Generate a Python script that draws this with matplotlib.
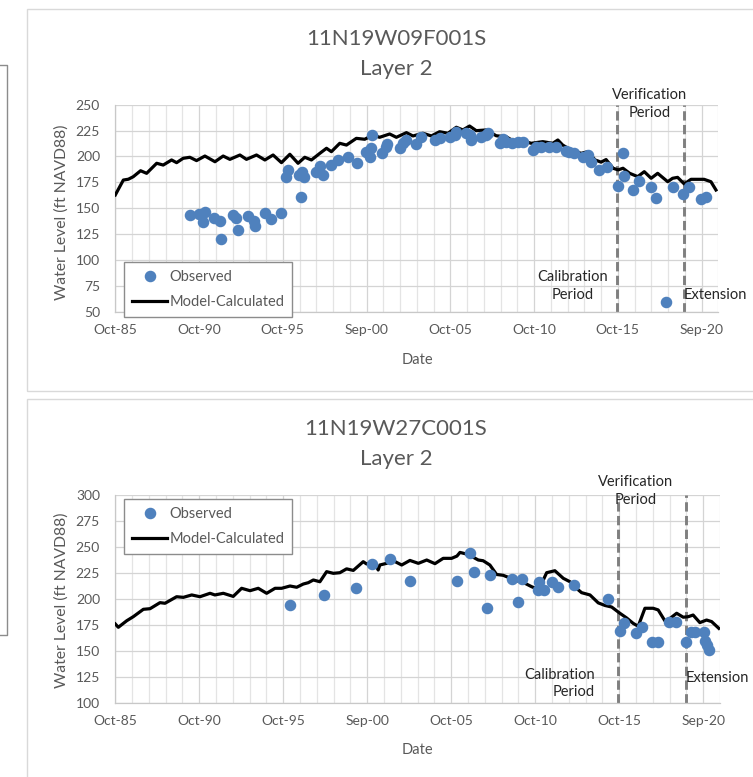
import matplotlib
matplotlib.use('Agg')
import matplotlib.pyplot as plt
from matplotlib.lines import Line2D
from matplotlib.patches import Rectangle
import numpy as np

plt.rcParams['font.family'] = ['Lato', 'DejaVu Sans']

GREY = '#595959'
BLUE = '#4f81bd'

date_labels = ['Oct-85', 'Oct-90', 'Oct-95', 'Sep-00', 'Oct-05', 'Oct-10', 'Oct-15', 'Sep-20']
calibration_end = 2015.7
verification_end = 2019.7

# well 11N19W09F001S
w09_model_year = [1985.75, 1986.23, 1986.53, 1986.82, 1987.26, 1987.62, 1988.22, 1988.61, 1989.11, 1989.41,
                  1989.80, 1990.20, 1990.60, 1991.10, 1991.70, 1992.19, 1992.59, 1993.19, 1993.58, 1994.18,
                  1994.68, 1995.17, 1995.67, 1996.17, 1996.66, 1997.06, 1997.46, 1997.96, 1998.36, 1998.65,
                  1999.15, 1999.55, 2000.14, 2000.64, 2001.13, 2001.53, 2002.13, 2002.53, 2003.13, 2003.52,
                  2004.12, 2004.62, 2005.11, 2005.61, 2006.11, 2006.50, 2006.90, 2007.30, 2007.90, 2008.49,
                  2009.09, 2009.58, 2010.08, 2010.58, 2011.27, 2011.87, 2012.17, 2012.46, 2012.96, 2013.56,
                  2013.96, 2014.40, 2014.75, 2015.05, 2015.47, 2015.77, 2016.06, 2016.46, 2016.94, 2017.33,
                  2017.74, 2018.13, 2018.73, 2019.02, 2019.32, 2019.72, 2020.12, 2020.90, 2021.31, 2021.61]
w09_model_level = [162.8, 177.2, 178.0, 180.4, 186.2, 183.7, 193.4, 191.7, 196.6, 194.0,
                   198.2, 199.2, 196.0, 200.4, 194.9, 200.4, 197.2, 201.4, 197.2, 201.4,
                   196.6, 201.4, 194.0, 202.1, 193.4, 199.2, 196.6, 203.0, 207.9, 204.6,
                   212.7, 211.0, 217.5, 216.6, 220.7, 218.5, 221.7, 218.5, 223.0, 219.8,
                   222.4, 219.8, 223.9, 222.4, 228.2, 225.6, 229.4, 224.9, 225.6, 220.0,
                   219.0, 214.3, 215.2, 212.7, 214.3, 212.7, 215.9, 211.0, 206.2, 203.0,
                   204.6, 196.6, 194.5, 197.0, 188.6, 187.0, 188.6, 183.7, 180.5, 185.3,
                   178.9, 183.7, 175.6, 178.9, 179.8, 173.4, 177.9, 177.9, 175.6, 167.6]
w09_obs_year = [1990.20, 1990.76, 1991.10, 1991.00, 1991.64, 1991.99, 1992.04, 1992.75, 1992.95, 1993.05,
                1993.68, 1994.02, 1994.08, 1994.69, 1995.03, 1995.67, 1995.93, 1996.07, 1996.72, 1996.90,
                1997.00, 1996.82, 1997.72, 1997.95, 1998.17, 1998.65, 1999.05, 1999.65, 2000.16, 2000.70,
                2000.94, 2001.04, 2001.10, 2001.69, 2001.91, 2001.95, 2002.73, 2002.92, 2003.13, 2003.72,
                2004.02, 2004.81, 2005.11, 2005.71, 2006.01, 2006.11, 2006.70, 2006.90, 2007.00, 2007.60,
                2007.90, 2007.99, 2008.69, 2008.89, 2009.09, 2009.41, 2009.78, 2010.08, 2010.68, 2010.88,
                2011.18, 2011.67, 2012.07, 2012.67, 2012.86, 2013.16, 2013.66, 2013.95, 2014.16, 2014.65,
                2015.10, 2015.74, 2016.04, 2016.11, 2016.64, 2017.04, 2017.72, 2018.01, 2018.65, 2019.07,
                2019.66, 2020.02, 2020.72, 2021.02]
w09_obs_level = [143.0, 144.0, 146.0, 137.0, 141.0, 138.0, 120.0, 143.0, 141.0, 129.0,
                 142.0, 138.0, 132.5, 145.7, 139.3, 145.7, 180.5, 187.0, 182.0, 185.3,
                 180.0, 161.0, 184.5, 190.5, 182.0, 191.7, 196.6, 199.2, 193.4, 204.6,
                 199.0, 208.0, 221.0, 203.0, 209.5, 212.5, 208.0, 212.7, 215.5, 212.5,
                 219.0, 215.9, 217.5, 218.5, 220.5, 223.5, 222.4, 221.0, 216.0, 219.0,
                 220.7, 222.4, 212.7, 217.0, 214.3, 213.0, 213.5, 214.3, 206.5, 208.8,
                 209.4, 209.4, 209.4, 205.5, 204.6, 203.0, 199.8, 201.0, 194.9, 186.9,
                 190.0, 171.4, 203.0, 181.1, 167.6, 176.5, 170.2, 159.6, 59.0, 170.0,
                 163.3, 170.2, 159.3, 160.8]

# well 11N19W27C001S
w27_model_year = [1985.75, 1985.93, 1986.43, 1986.82, 1987.42, 1987.82, 1988.41, 1988.71, 1989.40, 1989.80,
                  1990.30, 1990.79, 1991.39, 1991.68, 1992.18, 1992.77, 1993.27, 1993.77, 1994.26, 1994.76,
                  1995.26, 1995.65, 1996.15, 1996.55, 1996.94, 1997.24, 1997.54, 1997.93, 1998.33, 1998.73,
                  1999.12, 1999.52, 1999.92, 2000.51, 2000.71, 2001.21, 2001.40, 2001.50, 2001.90, 2002.30,
                  2002.80, 2003.29, 2003.79, 2004.29, 2004.78, 2005.27, 2005.77, 2006.09, 2006.27, 2006.57,
                  2006.87, 2007.36, 2007.65, 2008.05, 2008.45, 2008.84, 2009.14, 2009.54, 2010.14, 2010.54,
                  2010.93, 2011.23, 2011.43, 2011.92, 2012.42, 2012.82, 2013.11, 2013.51, 2014.01, 2014.50,
                  2014.90, 2015.30, 2015.79, 2016.19, 2016.58, 2016.88, 2017.28, 2017.77, 2018.07, 2018.47,
                  2018.77, 2019.17, 2019.56, 2019.86, 2020.15, 2020.55, 2020.95, 2021.25, 2021.68]
w27_model_level = [175.7, 172.5, 178.8, 182.7, 189.8, 190.4, 196.2, 195.6, 201.9, 201.3,
                   203.6, 201.9, 205.2, 203.6, 205.2, 202.2, 210.0, 207.7, 210.0, 205.2,
                   210.0, 210.0, 212.2, 211.0, 214.1, 215.4, 218.0, 216.3, 226.0, 224.4,
                   225.0, 228.7, 227.2, 235.6, 233.4, 234.0, 227.6, 232.4, 234.0, 236.5,
                   232.4, 236.8, 234.0, 237.2, 233.7, 238.8, 238.8, 241.0, 244.5, 243.3,
                   241.5, 237.2, 236.5, 232.4, 223.3, 222.5, 220.6, 218.0, 214.8, 211.5,
                   209.0, 218.0, 225.0, 226.9, 219.6, 216.3, 211.3, 205.8, 203.6, 196.0,
                   193.5, 192.0, 186.0, 181.5, 176.3, 173.5, 190.8, 190.8, 189.2, 178.7,
                   181.0, 186.0, 182.2, 182.7, 184.3, 177.0, 179.5, 178.0, 171.5]
w27_obs_year = [1996.15, 1998.19, 2000.10, 2001.03, 2002.12, 2003.29, 2006.07, 2006.86, 2007.08, 2007.89,
                2008.05, 2009.39, 2009.94, 2009.71, 2010.97, 2010.93, 2011.28, 2011.75, 2012.10, 2013.05,
                2015.10, 2015.79, 2016.05, 2016.76, 2017.13, 2017.68, 2018.04, 2018.70, 2019.11, 2019.74,
                2020.04, 2020.24, 2020.77, 2020.87, 2020.95, 2021.09]
w27_obs_level = [193.7, 203.6, 210.0, 233.1, 237.9, 217.3, 217.3, 243.7, 226.0, 191.3,
                 222.8, 219.0, 219.0, 197.1, 216.5, 208.4, 208.4, 216.3, 211.5, 213.2,
                 199.5, 169.0, 177.0, 167.5, 172.8, 158.7, 158.7, 177.9, 177.9, 158.7,
                 168.0, 168.0, 168.0, 159.5, 155.5, 151.0]


def draw_panel(ax, model_year, model_level, obs_year, obs_level, ylim, legend_anchor):
    years = np.arange(1985.75, 2022.0, 1.0)
    major = 1985.75 + 5 * np.arange(len(date_labels))
    ax.set_xlim(1985.75, 2021.75)
    ax.set_ylim(*ylim)
    ax.set_xticks(major)
    ax.set_xticklabels(date_labels)
    ax.set_xticks(years, minor=True)
    ax.set_yticks(np.arange(ylim[0], ylim[1] + 1, 25))
    ax.tick_params(axis='both', which='both', length=0, labelsize=10, labelcolor=GREY)
    ax.tick_params(axis='y', pad=11)
    ax.tick_params(axis='x', pad=9)
    ax.grid(True, which='major', color='#d4d4d4', lw=0.9)
    ax.grid(True, which='minor', axis='x', color='#e4e4e4', lw=0.9)
    ax.set_axisbelow(True)
    for s in ['top', 'right']:
        ax.spines[s].set_visible(False)
    for s in ['left', 'bottom']:
        ax.spines[s].set_color('#c8c8c8')
        ax.spines[s].set_linewidth(0.9)

    for x in [calibration_end, verification_end]:
        ax.axvline(x, color='#7f7f7f', lw=2.1, ls=(0, (3.2, 1.5)), zorder=2)

    ax.plot(model_year, model_level, color='black', lw=2.3, solid_joinstyle='round', zorder=3)
    ax.plot(obs_year, obs_level, 'o', color=BLUE, ms=7.3, mec=BLUE, zorder=4, clip_on=False)

    handles = [Line2D([], [], ls='none', marker='o', color=BLUE, ms=7.3),
               Line2D([], [], color='black', lw=2.3)]
    leg = ax.legend(handles, ['Observed', 'Model-Calculated'], loc='upper left',
                    bbox_to_anchor=legend_anchor, bbox_transform=ax.figure.transFigure,
                    fontsize=10.5, handlelength=2.4, handletextpad=0.15, labelspacing=0.75,
                    borderpad=0.55, borderaxespad=0, fancybox=False, framealpha=1)
    leg.get_frame().set_edgecolor('#8c8c8c')
    leg.get_frame().set_linewidth(1.0)
    for t in leg.get_texts():
        t.set_color(GREY)
    leg.set_zorder(5)


fig = plt.figure(figsize=(7.53, 7.77), dpi=100)
W, H = 753.0, 777.0

def fx(px):
    return px / W

def fy(py):
    return 1 - py / H

# chart frames
fig.add_artist(Rectangle((fx(27), fy(391)), 1.0, (391 - 9) / H, transform=fig.transFigure,
                         fill=False, ec='#d9d9d9', lw=1))
fig.add_artist(Rectangle((fx(27), fy(790)), 1.0, (790 - 399) / H, transform=fig.transFigure,
                         fill=False, ec='#d9d9d9', lw=1))
fig.add_artist(Line2D([0, fx(6.7), fx(6.7), 0], [fy(65), fy(65), fy(635), fy(635)],
                      transform=fig.transFigure, color='#8c8c8c', lw=1))

ax1 = fig.add_axes([fx(115.3), fy(311.7), (718.3 - 115.3) / W, (311.7 - 104.7) / H])
draw_panel(ax1, w09_model_year, w09_model_level, w09_obs_year, w09_obs_level, (50, 250),
           (fx(124), fy(262)))
ax2 = fig.add_axes([fx(115.3), fy(702.7), (720.0 - 115.3) / W, (702.7 - 494.7) / H])
draw_panel(ax2, w27_model_year, w27_model_level, w27_obs_year, w27_obs_level, (100, 300),
           (fx(124), fy(499)))

# titles and axis labels
for title, y1, y2 in [('11N19W09F001S', 38.7, 68.7), ('11N19W27C001S', 429.3, 459.3)]:
    fig.text(fx(396), fy(y1), title, ha='center', va='center', fontsize=16, color=GREY)
    fig.text(fx(396), fy(y2), 'Layer 2', ha='center', va='center', fontsize=16, color=GREY)
for yc, yd in [(212, 360), (600, 750)]:
    fig.text(fx(61.5), fy(yc), 'Water Level (ft NAVD88)', rotation=90, ha='center', va='center',
             fontsize=11.3, color=GREY)
    fig.text(fx(417), fy(yd), 'Date', ha='center', va='center', fontsize=10.5, color=GREY)

# period annotations
kw = dict(fontsize=10.5, color='#262626', linespacing=1.35)
ax1.text(2017.63, 251, 'Verification\nPeriod', ha='center', va='center', clip_on=False, **kw)
ax1.text(2013.05, 74.8, 'Calibration\nPeriod', ha='center', va='center', **kw)
ax1.text(2019.66, 66, 'Extension', ha='left', va='center', clip_on=False, **kw)
ax2.text(2016.74, 303.6, 'Verification\nPeriod', ha='center', va='center', clip_on=False, **kw)
ax2.text(2014.29, 118.5, 'Calibration\nPeriod', ha='right', va='center', multialignment='right', **kw)
ax2.text(2019.72, 123.8, 'Extension', ha='left', va='center', clip_on=False, **kw)

fig.savefig('out.png', dpi=100)
